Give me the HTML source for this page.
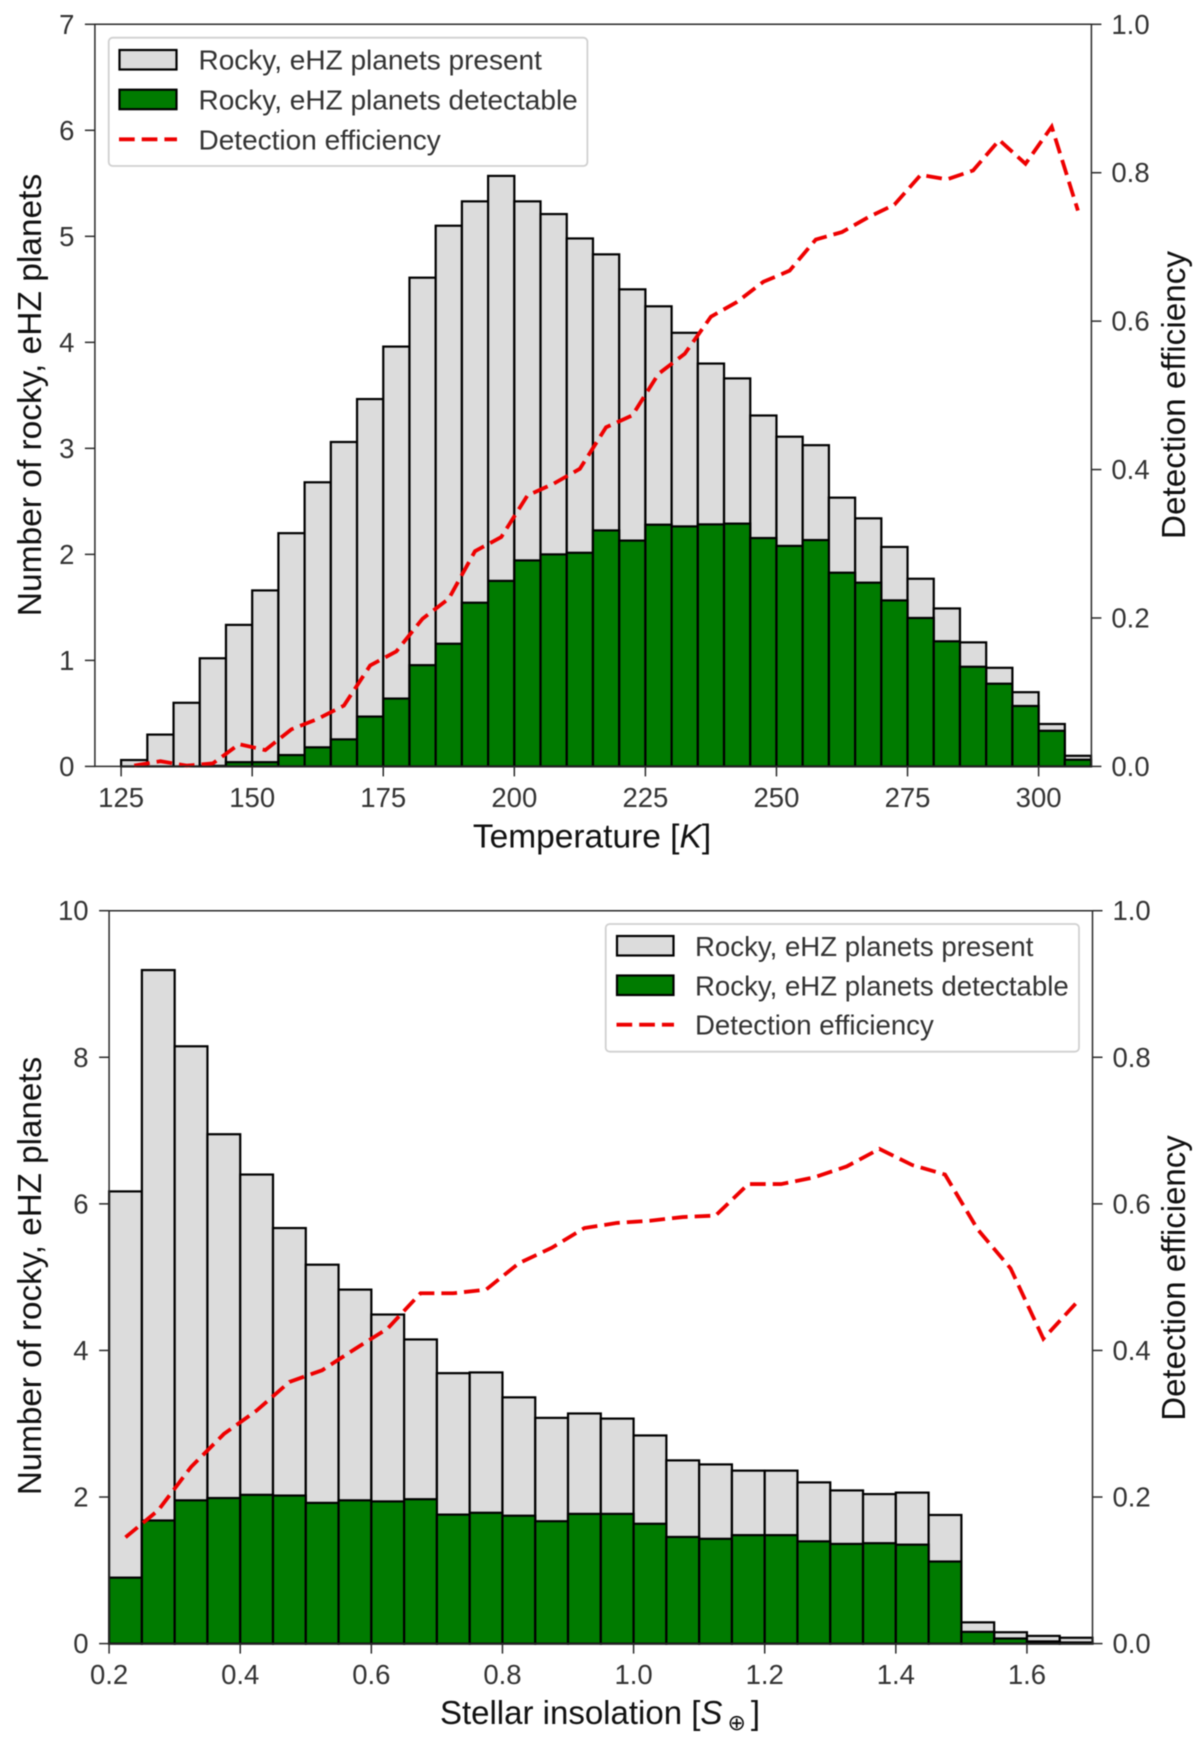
<!DOCTYPE html>
<html lang="en">
<head>
<meta charset="utf-8">
<title>Rocky eHZ planets: temperature and insolation histograms</title>
<style>
html,body{margin:0;padding:0;background:#fff;width:1200px;height:1742px;overflow:hidden}
svg{display:block;font-family:"Liberation Sans",Arial,sans-serif;filter:blur(.4px)}
.tick{font-size:27.5px;fill:#333}
.leg{font-size:28px;fill:#333}
.leg2{font-size:27.6px;fill:#333}
.lab{font-size:33.5px;fill:#111}
</style>
</head>
<body>
<svg id="fig" xmlns="http://www.w3.org/2000/svg" width="1200" height="1742" viewBox="0 0 1200 1742">
  <g id="chart-a"></g>
  <g id="chart-b"></g>

  <text class="lab" transform="translate(41,395) rotate(-90)" text-anchor="middle">Number of rocky, eHZ planets</text>
  <text class="lab" style="font-size:33.3px" transform="translate(1185,395) rotate(-90)" text-anchor="middle">Detection efficiency</text>
  <text class="lab" x="592" y="847.5" text-anchor="middle">Temperature [<tspan font-style="italic">K</tspan>]</text>

  <text class="lab" style="font-size:33.2px" transform="translate(41,1276) rotate(-90)" text-anchor="middle">Number of rocky, eHZ planets</text>
  <text class="lab" style="font-size:33px" transform="translate(1185,1278) rotate(-90)" text-anchor="middle">Detection efficiency</text>
  <text class="lab" style="font-size:33px" x="600" y="1724" text-anchor="middle">Stellar insolation [<tspan font-style="italic">S</tspan><tspan dx="5" dy="6" font-size="22" font-family="'DejaVu Sans',sans-serif">⊕</tspan><tspan dx="5" dy="-6">]</tspan></text>

  <g>
    <rect x="108.7" y="37.7" width="478.7" height="128.3" rx="4" fill="#fff" stroke="#d0d0d0" stroke-width="1.8"/>
    <rect x="119.5" y="50" width="57" height="19.5" fill="#dcdcdc" stroke="#000" stroke-width="2.2"/>
    <rect x="119.5" y="89.7" width="57" height="19.5" fill="#007b00" stroke="#000" stroke-width="2.2"/>
    <line x1="119" y1="139.3" x2="177" y2="139.3" stroke="#ee0000" stroke-width="3.8" stroke-dasharray="15.7 7"/>
    <text class="leg" x="198.5" y="69.5">Rocky, eHZ planets present</text>
    <text class="leg" x="198.5" y="109.3">Rocky, eHZ planets detectable</text>
    <text class="leg" x="198.5" y="149.5">Detection efficiency</text>
  </g>

  <g>
    <rect x="605.7" y="924" width="473.3" height="127.7" rx="4" fill="#fff" stroke="#d0d0d0" stroke-width="1.8"/>
    <rect x="617" y="936" width="56.5" height="19.5" fill="#dcdcdc" stroke="#000" stroke-width="2.2"/>
    <rect x="617" y="975.5" width="56.5" height="19.5" fill="#007b00" stroke="#000" stroke-width="2.2"/>
    <line x1="616.5" y1="1024.7" x2="674" y2="1024.7" stroke="#ee0000" stroke-width="3.8" stroke-dasharray="15.7 7"/>
    <text class="leg2" x="695" y="956">Rocky, eHZ planets present</text>
    <text class="leg2" x="695" y="995.3">Rocky, eHZ planets detectable</text>
    <text class="leg2" x="695" y="1034.5">Detection efficiency</text>
  </g>
</svg>
<script>
var tempBins = [125,130,135,140,145,150,155,160,165,170,175,180,185,190,195,200,205,210,215,220,225,230,235,240,245,250,255,260,265,270,275,280,285,290,295,300,305];
var tempPresent = [0.06,0.30,0.60,1.02,1.335,1.66,2.20,2.68,3.06,3.465,3.96,4.61,5.10,5.33,5.57,5.33,5.21,4.98,4.83,4.50,4.34,4.09,3.80,3.66,3.31,3.11,3.03,2.535,2.34,2.07,1.77,1.49,1.17,0.93,0.70,0.40,0.10];
var tempDetectable = [0,0,0,0.005,0.04,0.04,0.107,0.18,0.255,0.47,0.64,0.955,1.157,1.544,1.75,1.943,2.0,2.015,2.226,2.13,2.28,2.264,2.283,2.29,2.154,2.08,2.135,1.827,1.733,1.566,1.40,1.18,0.94,0.78,0.57,0.336,0.063];
var tempEfficiency = [0.001,0.007,0.001,0.004,0.030,0.022,0.050,0.064,0.082,0.136,0.155,0.199,0.226,0.290,0.309,0.365,0.381,0.401,0.457,0.473,0.529,0.556,0.606,0.626,0.653,0.668,0.710,0.720,0.740,0.757,0.797,0.791,0.803,0.844,0.812,0.862,0.749];
var tempXTicks = [125,150,175,200,225,250,275,300];
var tempYTicks = [0,1,2,3,4,5,6,7];
var effTicks = ["0.0","0.2","0.4","0.6","0.8","1.0"];

var insBins = [0.20,0.25,0.30,0.35,0.40,0.45,0.50,0.55,0.60,0.65,0.70,0.75,0.80,0.85,0.90,0.95,1.00,1.05,1.10,1.15,1.20,1.25,1.30,1.35,1.40,1.45,1.50,1.55,1.60,1.65];
var insPresent = [6.17,9.19,8.15,6.95,6.40,5.67,5.17,4.83,4.49,4.15,3.69,3.70,3.36,3.08,3.14,3.07,2.84,2.50,2.445,2.36,2.36,2.20,2.09,2.04,2.06,1.755,0.29,0.155,0.105,0.08];
var insDetectable = [0.90,1.68,1.955,1.986,2.03,2.02,1.92,1.955,1.94,1.97,1.76,1.785,1.745,1.67,1.77,1.77,1.635,1.455,1.43,1.48,1.48,1.395,1.36,1.37,1.35,1.12,0.16,0.07,0.03,0.015];
var insEfficiency = [0.145,0.182,0.241,0.286,0.318,0.357,0.373,0.402,0.430,0.478,0.478,0.483,0.519,0.540,0.567,0.574,0.577,0.582,0.584,0.627,0.627,0.636,0.651,0.675,0.653,0.640,0.565,0.512,0.416,0.4645];
var insXTicks = ["0.2","0.4","0.6","0.8","1.0","1.2","1.4","1.6"];
var insYTicks = [0,2,4,6,8,10];

var NS = "http://www.w3.org/2000/svg";
function make(tag, parent, attrs) {
  var n = document.createElementNS(NS, tag);
  for (var k in attrs) n.setAttribute(k, attrs[k]);
  parent.appendChild(n);
  return n;
}
function drawChart(g, o) {
  function X(v) { return o.left + (v - o.xMin) / (o.xMax - o.xMin) * (o.right - o.left); }
  function Y(v) { return o.bottom - (v - o.yMin) / (o.yMax - o.yMin) * (o.bottom - o.top); }
  function E(v) { return o.bottom - v * (o.bottom - o.top); }
  o.bins.forEach(function (b, i) {
    var x0 = X(b), x1 = X(b + o.binWidth);
    var r = make("rect", g, {x: x0, y: Y(o.present[i]), width: x1 - x0, height: Y(0) - Y(o.present[i]), fill: "#dcdcdc", stroke: "#000", "stroke-width": 2.2});
    
    
  });
  o.bins.forEach(function (b, i) {
    var x0 = X(b), x1 = X(b + o.binWidth);
    var r = make("rect", g, {x: x0, y: Y(o.detectable[i]), width: x1 - x0, height: Y(0) - Y(o.detectable[i]), fill: "#007b00", stroke: "#000", "stroke-width": 2.2});
    
    
  });
  var pts = o.bins.map(function (b, i) { return X(b + o.binWidth / 2).toFixed(2) + "," + E(o.efficiency[i]).toFixed(2); }).join(" ");
  var line = make("polyline", g, {points: pts, fill: "none", stroke: "#ee0000", "stroke-width": 3.8, "stroke-dasharray": "15.7 7"});
  
  

  var frame = make("path", g, {d: "M" + o.left + " " + o.bottom + "V" + o.top + "H" + o.right + "V" + o.bottom + "H" + o.left + "Z", fill: "none", stroke: "#2a2a2a", "stroke-width": 1.5});
  
  

  o.xTicks.forEach(function (t) {
    var v = parseFloat(t), x = X(v);
    var tk = make("line", g, {x1: x, x2: x, y1: o.bottom, y2: o.bottom + 10, stroke: "#2a2a2a", "stroke-width": 1.5});
    
    
    var lb = make("text", g, {x: x, y: o.bottom + 40.5, "text-anchor": "middle", "class": "tick"});
    lb.textContent = t;
    
    
  });
  o.yTicks.forEach(function (t) {
    var y = Y(t);
    var tk = make("line", g, {x1: o.left - 10, x2: o.left, y1: y, y2: y, stroke: "#2a2a2a", "stroke-width": 1.5});
    
    
    var lb = make("text", g, {x: o.left - 20.5, y: y + 9.5, "text-anchor": "end", "class": "tick"});
    lb.textContent = t;
    
    
  });
  o.effTicks.forEach(function (t) {
    var y = E(parseFloat(t));
    var tk = make("line", g, {x1: o.right, x2: o.right + 10, y1: y, y2: y, stroke: "#2a2a2a", "stroke-width": 1.5});
    
    
    var lb = make("text", g, {x: o.right + 20, y: y + 9.5, "class": "tick"});
    lb.textContent = t;
    
    
  });
}
drawChart(document.getElementById("chart-a"), {
  left: 94.9, right: 1091.4, top: 24.3, bottom: 766.4,
  xMin: 120, xMax: 310.07, yMin: 0, yMax: 7, binWidth: 5,
  bins: tempBins, present: tempPresent, detectable: tempDetectable, efficiency: tempEfficiency,
  xTicks: tempXTicks, yTicks: tempYTicks, effTicks: effTicks
});
drawChart(document.getElementById("chart-b"), {
  left: 109.1, right: 1092.5, top: 910.7, bottom: 1643.6,
  xMin: 0.2, xMax: 1.7, yMin: 0, yMax: 10, binWidth: 0.05,
  bins: insBins, present: insPresent, detectable: insDetectable, efficiency: insEfficiency,
  xTicks: insXTicks, yTicks: insYTicks, effTicks: effTicks
});
</script>
</body>
</html>
